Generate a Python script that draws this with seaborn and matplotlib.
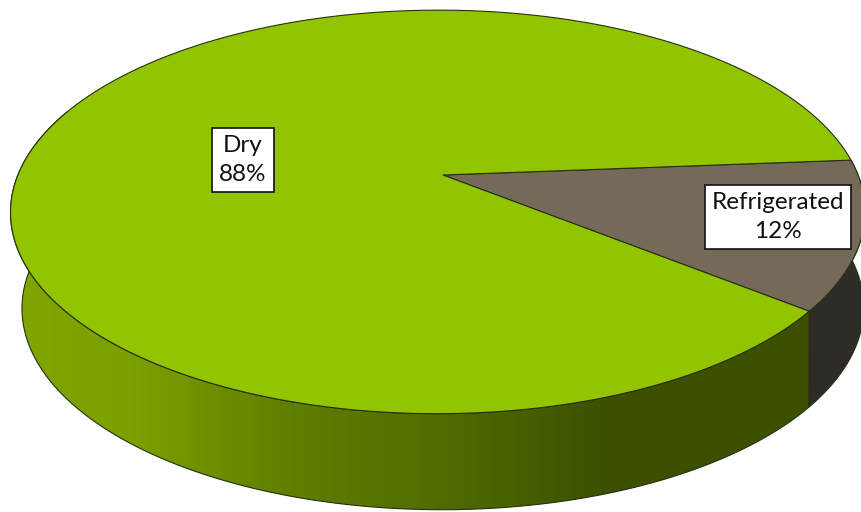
import numpy as np
import matplotlib.pyplot as plt
import seaborn as sns
from matplotlib.colors import LinearSegmentedColormap
from matplotlib.patches import Polygon

labels = ['Refrigerated', 'Dry']
shares = [12, 88]
label_pos = [(778, 217), (243, 160)]

top_colors = ['#75695a', '#92c400']
side_dark = '#2f2b27'
edge_color = '#26300f'

# wall shading of the green slice, left to right
wall_stops = [(0.0, '#7fa600'), (0.15, '#7ca000'), (0.35, '#5f7f00'),
              (0.55, '#4f6b00'), (0.75, '#3c5000'), (1.0, '#3c5000')]

W, H = 862, 512
START = 4.5  # angle where the first slice begins

# perspective of the disc, in pixels
CX, CY = 443, 175
AX_R, BY_R = 420, 195
K, M = 0.183, 0.012
DEPTH = 96
BOTTOM_SCALE = 0.985
BOTTOM_DX = 5


def project(theta, bottom=False):
    t = np.radians(theta)
    x, y = np.cos(t), np.sin(t)
    w = 1 + K * y + M * x
    if bottom:
        return CX + BOTTOM_DX + BOTTOM_SCALE * AX_R * x / w, CY + DEPTH - BY_R * y / w
    return CX + AX_R * x / w, CY - BY_R * y / w


def wall(t1, t2):
    th = np.linspace(t1, t2, 300)
    x1, y1 = project(th)
    x2, y2 = project(th[::-1], bottom=True)
    return np.column_stack([np.r_[x1, x2], np.r_[y1, y2]])


def draw_chart():
    sns.set_theme(style='white')
    plt.rcParams['font.family'] = ['Lato', 'DejaVu Sans']

    fig = plt.figure(figsize=(W / 100, H / 100), dpi=100)
    ax = fig.add_axes([0, 0, 1, 1])
    ax.set_xlim(0, W)
    ax.set_ylim(H, 0)
    ax.axis('off')

    # slice angles run clockwise from START
    spans = np.array(shares) / sum(shares) * 360
    ends = START - np.cumsum(spans)
    starts = np.r_[START, ends[:-1]]

    # side walls
    ref_wall = wall(starts[0], ends[0])
    ax.add_patch(Polygon(ref_wall, closed=True, fc=side_dark, ec=edge_color, lw=0.8, zorder=1))

    dry_wall = wall(starts[1], -200)
    cmap = LinearSegmentedColormap.from_list('wall', wall_stops)
    poly = Polygon(dry_wall, closed=True, fc='none', ec=edge_color, lw=0.8, zorder=2)
    ax.add_patch(poly)
    grad = ax.imshow(np.linspace(0, 1, 400)[None, :], cmap=cmap, extent=(10, 810, H, 0),
                     aspect='auto', zorder=1.5)
    grad.set_clip_path(poly)
    ax.set_xlim(0, W)
    ax.set_ylim(H, 0)

    # top face
    for a, b, col in zip(starts, ends, top_colors):
        th = np.linspace(a, b, 400)
        px, py = project(th)
        ax.fill(np.r_[CX, px], np.r_[CY, py], fc=col, ec=edge_color, lw=0.8,
                joinstyle='round', zorder=3)

    # labels
    for name, share, (x, y) in zip(labels, shares, label_pos):
        ax.text(x, y, f'{name}\n{share}%', ha='center', va='center', fontsize=17.5,
                color='#111111', linespacing=1.5, zorder=4,
                bbox=dict(boxstyle='square,pad=0.29', fc='white', ec='#111111', lw=1.2))

    fig.savefig('out.png', dpi=100)


if __name__ == "__main__":
    draw_chart()
